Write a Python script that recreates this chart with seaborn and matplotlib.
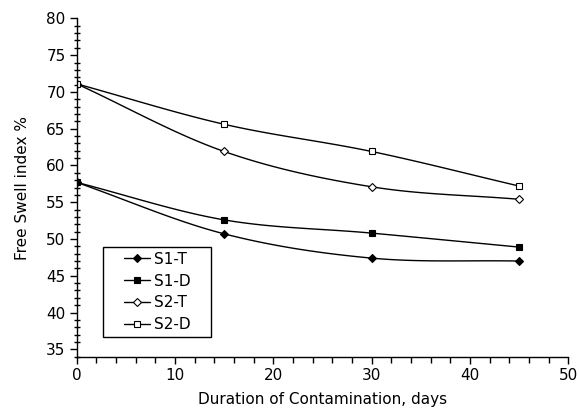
import numpy as np
import pandas as pd
import matplotlib
matplotlib.use("Agg")
import matplotlib.pyplot as plt
import seaborn as sns
from matplotlib.ticker import MultipleLocator
from matplotlib.patches import Rectangle

# values
days = [0, 15, 30, 45]
s1_t = [57.7, 50.7, 47.4, 47.0]
s1_d = [57.7, 52.6, 50.8, 48.9]
s2_t = [71.1, 61.9, 57.1, 55.4]
s2_d = [71.1, 65.6, 61.9, 57.2]
series_names = ["S1-T", "S1-D", "S2-T", "S2-D"]


def smooth(x, y, n=40):
    """Catmull-Rom curve through the points (Excel style smoothed line)."""
    x = np.asarray(x, float)
    y = np.asarray(y, float)
    px = np.concatenate([[2 * x[0] - x[1]], x, [2 * x[-1] - x[-2]]])
    py = np.concatenate([[2 * y[0] - y[1]], y, [2 * y[-1] - y[-2]]])
    xs, ys = [], []
    t = np.linspace(0, 1, n)
    for i in range(1, len(px) - 2):
        for p, out in ((px, xs), (py, ys)):
            p0, p1, p2, p3 = p[i - 1], p[i], p[i + 1], p[i + 2]
            out.append(0.5 * ((2 * p1) + (-p0 + p2) * t
                              + (2 * p0 - 5 * p1 + 4 * p2 - p3) * t ** 2
                              + (-p0 + 3 * p1 - 3 * p2 + p3) * t ** 3))
    return np.concatenate(xs), np.concatenate(ys)


def main():
    sns.set_style("ticks")
    plt.rcParams["font.family"] = ["DejaVu Sans"]
    plt.rcParams["text.color"] = "black"
    plt.rcParams["axes.labelcolor"] = "black"
    plt.rcParams["xtick.color"] = "black"
    plt.rcParams["ytick.color"] = "black"
    fig, ax = plt.subplots(figsize=(5.79, 4.09), dpi=100)
    fig.subplots_adjust(left=0.1325, right=0.9815, top=0.955, bottom=0.128)

    styles = {
        "S1-T": dict(marker="D", mfc="black", ms=3.8),
        "S1-D": dict(marker="s", mfc="black", ms=4.3),
        "S2-T": dict(marker="D", mfc="white", ms=3.8),
        "S2-D": dict(marker="s", mfc="white", ms=4.3),
    }
    for name, vals in zip(series_names, [s1_t, s1_d, s2_t, s2_d]):
        cx, cy = smooth(days, vals)
        sns.lineplot(x=cx, y=cy, ax=ax, color="black", lw=1.0, sort=False,
                     estimator=None)
        st = styles[name]
        ax.plot(days, vals, ls="none", marker=st["marker"], ms=st["ms"],
                mfc=st["mfc"], mec="black", mew=0.8)
        ax.plot([], [], color="black", lw=1.0, marker=st["marker"], ms=st["ms"],
                mfc=st["mfc"], mec="black", mew=0.8, label=name)

    ax.set_xlim(0, 50)
    ax.set_ylim(34, 80)
    ax.set_xticks(range(0, 51, 10))
    ax.set_yticks(range(35, 81, 5))
    ax.xaxis.set_minor_locator(MultipleLocator(2))
    ax.yaxis.set_minor_locator(MultipleLocator(1))
    ax.tick_params(axis="both", which="major", direction="out", length=5,
                   width=1, labelsize=11, pad=3)
    ax.tick_params(axis="x", which="minor", direction="out", length=4, width=1)
    ax.tick_params(axis="y", which="minor", direction="inout", length=5, width=1)
    for s in ["left", "bottom"]:
        ax.spines[s].set_color("black")
        ax.spines[s].set_linewidth(1)
    sns.despine(ax=ax)

    ax.set_xlabel("Duration of Contamination, days", fontsize=11, labelpad=7)
    ax.set_ylabel("Free Swell index %", fontsize=11, labelpad=12)

    # legend box, wider than tall like the original
    box = (0.0535, 0.058, 0.22, 0.266)
    ax.add_patch(Rectangle(box[:2], box[2], box[3], transform=ax.transAxes,
                           fill=True, facecolor="white", edgecolor="black",
                           lw=1, zorder=4))
    leg = ax.legend(loc="center", bbox_to_anchor=box, frameon=False,
                    fontsize=11, handlelength=1.7, handletextpad=0.25,
                    labelspacing=0.45, borderpad=0, borderaxespad=0)
    leg.set_zorder(5)

    fig.savefig("out.png", dpi=100)


if __name__ == "__main__":
    main()
